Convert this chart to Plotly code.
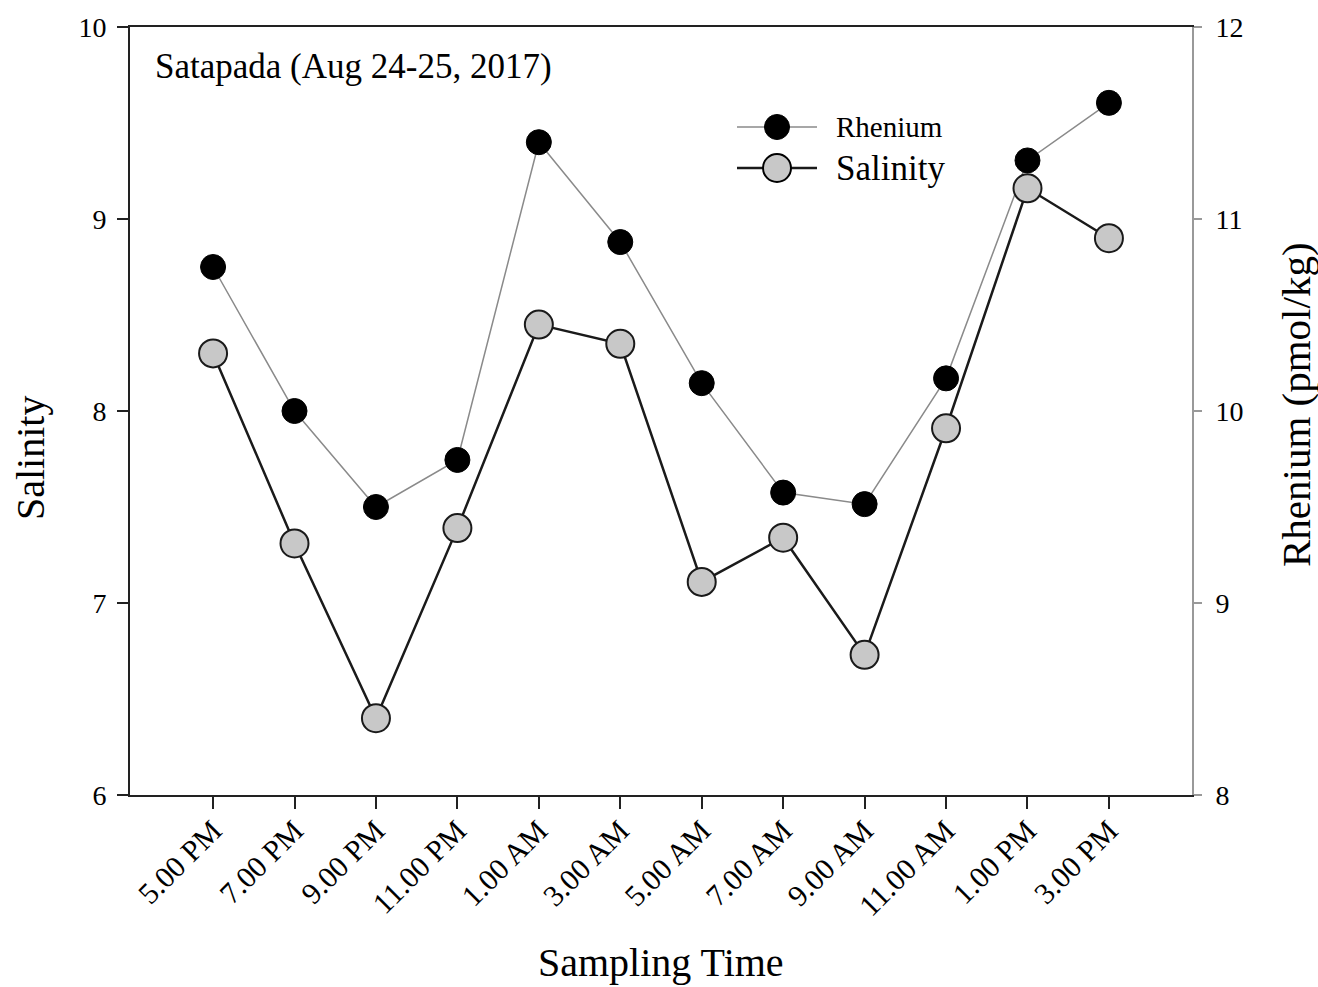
import plotly.graph_objects as go

times = ["5.00 PM", "7.00 PM", "9.00 PM", "11.00 PM", "1.00 AM", "3.00 AM",
         "5.00 AM", "7.00 AM", "9.00 AM", "11.00 AM", "1.00 PM", "3.00 PM"]
salinity = [8.30, 7.31, 6.40, 7.39, 8.45, 8.35, 7.11, 7.34, 6.73, 7.91, 9.16, 8.90]
rhenium = [10.75, 10.00, 9.50, 9.745, 11.40, 10.88, 10.145, 9.575, 9.515, 10.17, 11.305, 11.605]

xpos = list(range(len(times)))
FONT = "Liberation Serif"

fig = go.Figure()
fig.add_trace(go.Scatter(
    x=xpos, y=rhenium, name="Rhenium", mode="lines+markers", yaxis="y",
    line=dict(color="#8a8a8a", width=1.5),
    marker=dict(color="black", size=25, line=dict(color="black", width=1)),
    showlegend=False))
fig.add_trace(go.Scatter(
    x=xpos, y=salinity, name="Salinity", mode="lines+markers", yaxis="y2",
    line=dict(color="#1a1a1a", width=2.5),
    marker=dict(color="#c8c8c8", size=28, line=dict(color="#1a1a1a", width=2)),
    showlegend=False))

xr = [-1.02, 12.02]
common_x = dict(range=xr, showgrid=False, zeroline=False)
fig.update_layout(
    width=1318, height=987,
    margin=dict(l=130, r=126, t=27, b=192),
    paper_bgcolor="white", plot_bgcolor="white",
    font=dict(family=FONT, color="black", size=28),
    xaxis=dict(**common_x, tickvals=xpos, ticktext=times, tickangle=-45,
               ticks="outside", ticklen=12, tickwidth=2, tickcolor="#222",
               showline=True, linecolor="#222", linewidth=2, mirror=True,
               ticklabelstandoff=-8,
               tickfont=dict(size=30, family=FONT)),
    xaxis2=dict(**common_x, overlaying="x", anchor="y", side="bottom",
                tickvals=xpos, ticks="inside", ticklen=13, tickwidth=2,
                tickcolor="#222", showticklabels=False, showline=False),
    yaxis=dict(range=[8, 12], side="right", tickvals=[8, 9, 10, 11, 12],
               ticks="outside", ticklen=8, tickwidth=2, tickcolor="#999",
               showline=True, linecolor="#999", linewidth=2, ticklabelstandoff=8,
               showgrid=False, zeroline=False, tickfont=dict(size=28, family=FONT)),
    yaxis2=dict(range=[6, 10], overlaying="y", side="left", tickvals=[6, 7, 8, 9, 10],
                ticks="outside", ticklen=11, tickwidth=2, tickcolor="#222",
                showline=True, linecolor="#222", linewidth=2, ticklabelstandoff=5,
                showgrid=False, zeroline=False, tickfont=dict(size=28, family=FONT)),
    yaxis3=dict(range=[8, 12], overlaying="y", side="right", tickvals=[8, 9, 10, 11, 12],
                ticks="inside", ticklen=9, tickwidth=2, tickcolor="#999",
                showticklabels=False, showline=False, showgrid=False, zeroline=False),
    yaxis4=dict(range=[6, 10], overlaying="y", side="left", tickvals=[6, 7, 8, 9, 10],
                ticks="inside", ticklen=13, tickwidth=2, tickcolor="#222",
                showticklabels=False, showline=False, showgrid=False, zeroline=False),
)

def px_x(p):
    return (p - 130) / (1192 - 130)

def px_y(p):
    return (795 - p) / (795 - 27)

# axis titles
fig.add_annotation(text="Salinity", xref="paper", yref="paper", x=px_x(30), y=px_y(458),
                   xanchor="center", yanchor="middle", textangle=-90, showarrow=False,
                   font=dict(size=40, family=FONT))
fig.add_annotation(text="Rhenium (pmol/kg)", xref="paper", yref="paper", x=px_x(1296), y=px_y(405),
                   xanchor="center", yanchor="middle", textangle=-90, showarrow=False,
                   font=dict(size=41, family=FONT))
fig.add_annotation(text="Sampling Time", xref="paper", yref="paper", x=px_x(661), y=px_y(962),
                   xanchor="center", yanchor="middle", showarrow=False,
                   font=dict(size=40, family=FONT))
fig.add_annotation(text="Satapada (Aug 24-25, 2017)", xref="paper", yref="paper",
                   x=px_x(153), y=px_y(66), xanchor="left", yanchor="middle", showarrow=False,
                   font=dict(size=35, family=FONT))

# legend (manual)
for yy, col, w, fill, sz, label, fs in [
        (127, "#8a8a8a", 1.5, "black", 25, "Rhenium", 29),
        (168, "#1a1a1a", 2.5, "#c8c8c8", 28, "Salinity", 35)]:
    fig.add_shape(type="line", xref="paper", yref="paper",
                  x0=px_x(737), x1=px_x(817), y0=px_y(yy), y1=px_y(yy),
                  line=dict(color=col, width=w))
    fig.add_shape(type="circle", xref="paper", yref="paper",
                  xsizemode="pixel", ysizemode="pixel",
                  xanchor=px_x(777), yanchor=px_y(yy),
                  x0=-sz / 2, x1=sz / 2, y0=-sz / 2, y1=sz / 2,
                  fillcolor=fill, line=dict(color="black", width=1 if fill == "black" else 2))
    fig.add_annotation(text=label, xref="paper", yref="paper", x=px_x(834), y=px_y(yy),
                       xanchor="left", yanchor="middle", showarrow=False,
                       font=dict(size=fs, family=FONT))

fig.write_html("out.html")
